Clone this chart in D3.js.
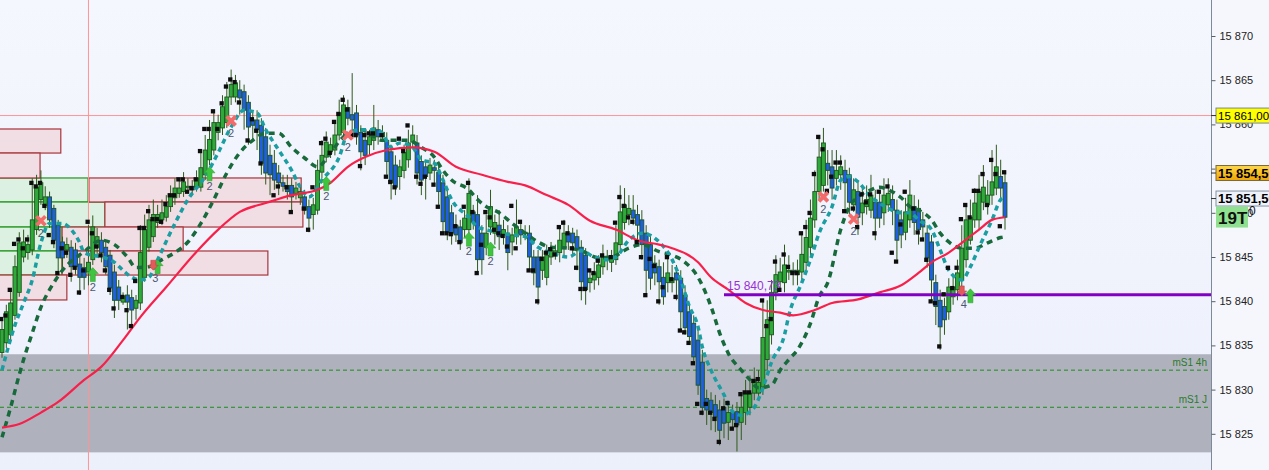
<!DOCTYPE html>
<html>
<head>
<meta charset="utf-8">
<script src="https://cdn.jsdelivr.net/npm/d3@7"></script>
<style>
  body { margin: 0; background: #f6f7fd; overflow: hidden; }
  svg { display: block; font-family: Arial, "Liberation Sans", sans-serif; }
</style>
</head>
<body>
<svg id="chart" width="1269" height="470"></svg>
<script>
// candles
const opens = [
  15834.2, 15835.3, 15836.2, 15838.4, 15841.0, 15845.0, 15845.5, 15845.8, 15848.1, 15851.5,
  15850.8, 15851.8, 15850.5, 15848.6, 15846.7, 15845.8, 15846.1, 15845.8, 15844.2, 15843.8,
  15843.3, 15844.7, 15846.1, 15846.9, 15846.1, 15845.2, 15843.3, 15841.6, 15839.9, 15840.7,
  15840.4, 15839.2, 15839.8, 15842.7, 15846.1, 15847.3, 15848.9, 15849.2, 15849.5, 15850.7,
  15851.7, 15852.2, 15852.4, 15852.9, 15853.0, 15852.9, 15852.9, 15854.3, 15856.0, 15857.1,
  15859.1, 15859.6, 15860.2, 15863.1, 15863.1, 15863.9, 15863.7, 15862.5, 15860.5, 15860.5,
  15859.9, 15858.6, 15856.5, 15855.6, 15854.5, 15853.4, 15853.1, 15853.1, 15852.2, 15851.7,
  15851.8, 15850.7, 15849.8, 15850.3, 15854.6, 15856.3, 15856.9, 15857.1, 15858.8, 15859.1,
  15861.9, 15861.1, 15861.3, 15859.1, 15858.2, 15857.7, 15858.2, 15859.4, 15858.6, 15858.2,
  15856.9, 15855.4, 15854.1, 15854.8, 15856.0, 15858.0, 15857.9, 15855.8, 15855.2, 15854.5,
  15855.1, 15854.6, 15853.4, 15851.8, 15850.0, 15848.6, 15848.4, 15848.1, 15848.1, 15850.1,
  15849.8, 15847.7, 15846.1, 15848.4, 15847.7, 15848.6, 15847.5, 15847.7, 15846.7, 15847.3,
  15848.1, 15847.7, 15847.7, 15845.0, 15845.0, 15843.5, 15842.7, 15845.0, 15845.6, 15845.5,
  15846.1, 15847.7, 15847.7, 15847.3, 15846.1, 15845.2, 15842.1, 15842.4, 15842.7, 15843.9,
  15844.7, 15844.4, 15844.7, 15846.4, 15848.9, 15849.8, 15850.3, 15849.8, 15849.2, 15847.7,
  15846.4, 15844.3, 15843.9, 15842.7, 15842.1, 15842.1, 15843.2, 15842.6, 15840.7, 15838.8,
  15837.5, 15835.6, 15833.1, 15829.0, 15828.8, 15828.3, 15827.7, 15828.0, 15826.3, 15827.4,
  15827.5, 15826.3, 15827.4, 15828.0, 15829.6, 15829.6, 15830.3, 15833.4, 15836.2, 15841.0,
  15842.2, 15842.1, 15843.3, 15843.5, 15843.0, 15843.3, 15844.4, 15846.1, 15849.2, 15852.4,
  15853.1, 15855.6, 15855.2, 15853.9, 15854.3, 15854.8, 15854.3, 15850.9, 15852.4, 15850.0,
  15850.7, 15850.3, 15851.2, 15851.2, 15850.0, 15850.9, 15851.5, 15850.3, 15849.2, 15847.8,
  15849.2, 15850.7, 15850.5, 15849.2, 15847.7, 15846.7, 15842.1, 15840.1, 15839.4, 15838.8,
  15840.5, 15841.3, 15842.4, 15844.7, 15846.9, 15849.2, 15849.2, 15851.2, 15850.9, 15852.0,
  15852.8, 15854.1, 15853.4
]
const closes = [
  15836.8, 15838.8, 15839.8, 15843.9, 15846.6, 15846.7, 15846.4, 15849.2, 15852.9, 15853.4,
  15851.8, 15849.2, 15846.9, 15844.9, 15844.9, 15846.4, 15843.9, 15843.9, 15842.7, 15842.7,
  15844.4, 15848.4, 15847.3, 15845.5, 15843.9, 15841.5, 15840.1, 15840.1, 15840.6, 15839.9,
  15839.0, 15840.1, 15845.5, 15848.1, 15849.2, 15849.8, 15849.8, 15850.0, 15850.7, 15852.0,
  15852.8, 15852.8, 15853.5, 15853.0, 15852.6, 15853.9, 15855.1, 15857.1, 15858.3, 15860.2,
  15860.2, 15862.0, 15863.1, 15864.5, 15864.7, 15863.0, 15861.6, 15859.7, 15859.9, 15859.4,
  15855.6, 15854.5, 15854.3, 15853.7, 15853.4, 15853.0, 15852.4, 15851.8, 15852.8, 15852.4,
  15850.3, 15849.4, 15850.9, 15854.8, 15856.5, 15858.0, 15857.7, 15858.8, 15861.3, 15862.2,
  15860.7, 15860.5, 15858.8, 15856.9, 15856.5, 15858.6, 15859.6, 15858.6, 15859.1, 15855.8,
  15853.4, 15852.9, 15855.2, 15856.8, 15857.9, 15858.8, 15854.5, 15853.7, 15854.1, 15855.4,
  15854.8, 15852.4, 15849.0, 15847.8, 15847.7, 15847.5, 15846.6, 15849.4, 15852.2, 15848.9,
  15844.7, 15844.7, 15847.7, 15850.7, 15848.9, 15847.3, 15848.1, 15845.5, 15847.5, 15848.4,
  15847.5, 15847.8, 15845.0, 15843.2, 15841.6, 15845.0, 15845.2, 15845.8, 15845.7, 15846.9,
  15847.7, 15846.7, 15846.6, 15845.8, 15842.2, 15841.3, 15842.6, 15843.2, 15844.1, 15845.0,
  15844.9, 15845.0, 15846.6, 15850.1, 15850.9, 15850.5, 15849.4, 15848.6, 15846.4, 15843.5,
  15842.6, 15843.2, 15842.2, 15840.5, 15843.2, 15842.6, 15842.4, 15838.8, 15837.0, 15836.0,
  15833.7, 15830.5, 15828.0, 15827.7, 15827.4, 15826.9, 15825.4, 15826.2, 15827.4, 15826.6,
  15826.0, 15828.0, 15829.6, 15829.6, 15831.1, 15830.8, 15835.9, 15837.9, 15841.0, 15843.0,
  15843.3, 15844.1, 15843.5, 15843.2, 15843.5, 15845.3, 15847.2, 15849.4, 15852.4, 15856.3,
  15857.9, 15854.8, 15852.8, 15854.8, 15855.2, 15853.4, 15851.2, 15852.6, 15849.5, 15851.1,
  15851.5, 15852.0, 15849.4, 15849.4, 15852.0, 15852.2, 15850.3, 15846.9, 15847.5, 15850.1,
  15852.0, 15848.9, 15848.1, 15848.4, 15844.9, 15842.4, 15839.4, 15837.1, 15837.9, 15841.6,
  15841.6, 15843.2, 15846.0, 15849.2, 15849.5, 15851.1, 15852.4, 15852.9, 15852.0, 15853.5,
  15855.2, 15852.8, 15849.5
]
const highs = [
  15837.9, 15839.6, 15841.3, 15845.2, 15847.8, 15848.1, 15847.5, 15853.9, 15854.3, 15854.8,
  15853.0, 15852.4, 15850.9, 15849.2, 15847.3, 15847.2, 15846.9, 15846.6, 15845.2, 15844.9,
  15848.6, 15849.7, 15848.3, 15847.8, 15846.9, 15845.8, 15844.1, 15842.4, 15841.0, 15841.8,
  15841.3, 15840.7, 15848.6, 15849.8, 15850.9, 15851.5, 15850.9, 15851.5, 15852.0, 15853.1,
  15853.9, 15853.7, 15854.6, 15853.9, 15853.7, 15854.8, 15857.1, 15858.8, 15860.5, 15861.6,
  15861.1, 15863.3, 15864.8, 15866.2, 15865.6, 15865.0, 15864.5, 15863.3, 15861.4, 15861.6,
  15860.7, 15859.6, 15857.7, 15857.1, 15855.4, 15854.3, 15854.3, 15853.9, 15853.5, 15853.1,
  15852.6, 15851.5, 15851.7, 15856.0, 15858.2, 15859.2, 15858.5, 15860.5, 15862.8, 15863.3,
  15862.8, 15865.8, 15862.2, 15859.9, 15859.4, 15859.4, 15862.2, 15860.5, 15859.9, 15859.1,
  15857.7, 15856.5, 15856.0, 15857.7, 15859.4, 15859.9, 15858.8, 15856.5, 15856.0, 15856.2,
  15856.0, 15855.4, 15854.3, 15852.6, 15850.9, 15849.8, 15849.2, 15850.3, 15853.9, 15850.9,
  15852.0, 15848.6, 15849.8, 15852.6, 15849.8, 15850.3, 15849.2, 15848.6, 15848.3, 15851.5,
  15849.0, 15848.6, 15848.6, 15845.8, 15845.8, 15845.8, 15846.4, 15846.7, 15846.4, 15848.6,
  15849.2, 15848.6, 15848.3, 15848.1, 15846.9, 15846.0, 15843.5, 15844.4, 15845.2, 15846.4,
  15845.8, 15845.8, 15848.6, 15853.1, 15852.8, 15852.0, 15852.0, 15850.9, 15850.3, 15848.6,
  15847.5, 15845.2, 15844.7, 15844.4, 15845.2, 15844.1, 15844.1, 15843.5, 15841.8, 15839.6,
  15838.4, 15836.8, 15834.5, 15830.0, 15829.7, 15829.4, 15828.8, 15829.0, 15828.3, 15828.3,
  15828.6, 15829.4, 15831.1, 15831.6, 15832.5, 15832.2, 15840.1, 15840.1, 15842.4, 15845.2,
  15844.9, 15846.4, 15845.2, 15844.4, 15844.7, 15847.5, 15849.2, 15851.5, 15854.8, 15858.6,
  15859.6, 15857.1, 15857.1, 15857.1, 15856.5, 15856.0, 15855.1, 15853.9, 15853.7, 15853.1,
  15853.1, 15854.3, 15852.6, 15852.6, 15853.9, 15853.9, 15853.1, 15851.5, 15850.3, 15851.7,
  15853.7, 15852.0, 15851.5, 15850.1, 15848.6, 15847.5, 15843.0, 15841.3, 15840.4, 15842.6,
  15843.0, 15844.7, 15848.6, 15850.9, 15851.5, 15852.8, 15854.3, 15855.4, 15853.7, 15857.1,
  15857.7, 15856.0, 15854.8
]
const lows = [
  15833.6, 15834.7, 15835.6, 15837.9, 15840.5, 15844.4, 15844.7, 15845.2, 15847.5, 15850.9,
  15850.3, 15848.3, 15846.0, 15843.0, 15843.8, 15844.9, 15842.2, 15843.0, 15840.7, 15841.3,
  15841.8, 15844.1, 15845.2, 15844.4, 15843.0, 15840.7, 15838.1, 15839.0, 15839.6, 15836.8,
  15837.4, 15837.9, 15839.0, 15842.2, 15845.6, 15846.7, 15848.3, 15848.6, 15849.0, 15850.1,
  15850.9, 15851.7, 15851.8, 15852.4, 15852.0, 15852.4, 15852.4, 15853.7, 15855.4, 15856.5,
  15858.2, 15858.8, 15859.6, 15862.2, 15862.5, 15861.1, 15859.4, 15857.7, 15858.2, 15857.1,
  15854.3, 15853.2, 15852.0, 15852.6, 15852.0, 15852.4, 15851.5, 15850.3, 15851.5, 15850.9,
  15849.8, 15847.8, 15848.1, 15849.8, 15853.9, 15855.7, 15856.2, 15856.5, 15858.2, 15858.5,
  15859.9, 15858.8, 15857.7, 15854.8, 15855.4, 15856.5, 15857.1, 15857.7, 15858.0, 15854.3,
  15851.5, 15852.0, 15852.6, 15853.9, 15855.1, 15857.3, 15853.2, 15852.0, 15851.5, 15853.7,
  15853.1, 15850.9, 15847.5, 15846.9, 15846.4, 15846.7, 15845.8, 15847.2, 15847.5, 15848.1,
  15843.3, 15843.0, 15845.2, 15847.5, 15846.4, 15845.8, 15846.4, 15843.5, 15845.2, 15846.4,
  15846.4, 15846.9, 15843.3, 15841.8, 15839.6, 15842.4, 15841.8, 15844.1, 15844.7, 15844.4,
  15845.2, 15845.8, 15845.2, 15843.5, 15840.1, 15839.6, 15841.0, 15841.3, 15841.8, 15843.0,
  15843.5, 15843.3, 15844.1, 15845.8, 15848.1, 15848.6, 15848.6, 15846.4, 15844.7, 15840.7,
  15841.3, 15841.8, 15839.6, 15839.6, 15841.0, 15841.0, 15840.1, 15836.8, 15836.2, 15835.1,
  15832.8, 15829.4, 15827.1, 15826.0, 15825.4, 15825.2, 15823.7, 15824.5, 15824.3, 15825.4,
  15823.0, 15824.3, 15826.0, 15827.1, 15828.8, 15828.8, 15829.4, 15832.2, 15835.1, 15840.1,
  15841.3, 15841.0, 15842.4, 15841.8, 15841.8, 15842.4, 15843.5, 15845.2, 15848.3, 15851.5,
  15852.4, 15853.1, 15851.5, 15853.1, 15852.6, 15850.3, 15849.8, 15850.1, 15847.5, 15848.6,
  15849.8, 15849.4, 15846.9, 15848.3, 15848.6, 15850.1, 15848.6, 15844.7, 15846.0, 15846.9,
  15848.3, 15847.5, 15846.4, 15846.9, 15843.8, 15840.1, 15837.3, 15834.5, 15836.2, 15837.9,
  15839.6, 15840.1, 15841.3, 15843.8, 15846.4, 15848.3, 15848.1, 15850.3, 15849.8, 15850.9,
  15852.0, 15851.5, 15848.1
]
// black square markers, one per candle (null = none)
const marks = [
  15838.0, 15838.4, 15841.3, 15846.5, 15847.0, 15846.0, 15847.0, 15853.4, 15853.0, 15853.4,
  15850.8, 15847.5, 15846.7, 15843.2, 15846.0, 15845.5, 15843.0, 15843.8, 15841.0, 15843.5,
  15849.0, 15847.7, 15846.2, 15845.2, 15843.5, 15841.3, 15839.2, null, 15840.5, 15839.0,
  15837.2, 15842.3, 15848.3, 15848.3, 15850.2, 15849.3, 15849.3, 15849.0, 15851.0, 15852.0,
  15852.0, 15853.8, 15853.8, 15852.4, 15852.8, 15853.8, 15857.0, 15859.5, 15859.5, 15861.5,
  15859.5, 15862.4, 15864.3, 15865.1, 15864.8, 15862.5, null, 15858.2, 15860.6, 15859.3,
  15855.6, null, null, 15852.0, 15853.0, null, 15852.9, 15850.1, null, null,
  15850.5, 15848.1, 15852.9, null, 15857.9, 15858.4, 15856.8, 15860.3, 15861.2, 15862.8,
  15861.7, 15858.8, 15858.8, 15855.3, 15858.8, 15859.0, 15859.0, null, 15858.8, 15854.1,
  15853.5, 15852.9, 15858.4, 15857.0, 15859.9, null, 15854.1, 15853.3, 15854.1, null,
  15853.2, 15850.7, 15847.7, 15847.7, 15847.6, 15848.5, 15846.7, 15850.7, 15853.4, 15850.1,
  15843.2, 15846.4, 15850.1, 15849.5, 15848.1, 15847.7, 15847.4, 15846.2, 15850.8, 15846.0,
  15849.0, null, 15843.5, 15843.5, 15840.0, 15844.8, 15845.5, 15845.9, 15845.3, 15848.4,
  15848.9, 15847.7, 15846.0, 15843.8, 15841.4, 15841.4, 15843.5, 15843.2, 15844.6, 15845.2,
  null, 15845.0, 15848.9, 15851.8, 15850.8, 15849.5, 15849.0, 15846.7, 15845.0, 15840.7,
  15844.8, 15844.0, 15840.0, 15841.6, 15845.0, 15842.5, 15840.5, 15836.7, 15836.5, 15835.3,
  15833.0, 15828.4, 15827.4, 15828.4, 15827.4, 15826.7, 15824.1, 15827.9, 15828.5, 15825.6,
  15826.0, 15829.5, 15829.7, 15829.7, 15831.0, 15831.2, 15840.1, 15837.2, 15838.0, 15844.5,
  15841.3, 15845.3, 15843.9, 15843.2, 15843.2, 15847.7, 15848.4, 15850.0, 15854.4, 15858.6,
  15857.2, 15852.5, 15854.1, 15855.7, 15855.7, 15850.2, null, 15850.5, 15848.4, 15852.1,
  15851.2, 15852.1, 15847.7, 15852.4, null, 15853.0, 15845.5, 15844.5, 15848.7, 15852.4,
  null, 15850.5, 15847.8, 15847.0, 15844.7, 15840.0, 15839.8, 15834.9, 15840.8, 15843.8,
  15841.5, 15843.8, 15849.3, 15850.9, 15849.5, 15852.5, 15852.5, 15854.4, 15850.9, 15856.0,
  15854.4, 15848.5, 15854.6
]

// moving averages: candle index and value
const redIdx = [0, 4, 9, 13, 19, 23, 28, 32, 38, 45, 50, 55, 61, 67, 73, 76, 80, 84, 89, 95,
  100, 105, 111, 117, 121, 126, 131, 136, 142, 147, 152, 155, 161, 164, 168, 172, 176, 180, 183, 188,
  192, 198, 203, 208, 212, 215, 219, 222, 226, 229, 232]
const redMA = [15825.7, 15826.1, 15827.4, 15828.6, 15831.1, 15832.6, 15835.6, 15838.2, 15841.6, 15845.6,
  15848.1, 15850.1, 15851.1, 15852.0, 15852.6, 15853.4, 15855.2, 15856.3, 15857.1, 15857.4,
  15856.9, 15855.2, 15854.3, 15853.5, 15853.1, 15852.0, 15850.9, 15849.1, 15848.1, 15846.9,
  15846.4, 15846.0, 15844.4, 15842.7, 15841.3, 15839.8, 15839.0, 15838.7, 15838.4, 15839.0,
  15839.8, 15840.2, 15841.0, 15841.8, 15843.2, 15844.4, 15845.5, 15846.6, 15848.1, 15849.2, 15849.5]

const tealIdx = [0, 3, 5, 7, 9, 11, 14, 16, 18, 19, 21, 23, 26, 28, 30, 32, 34, 36, 40, 43,
  47, 50, 53, 56, 59, 61, 64, 67, 69, 71, 74, 78, 80, 83, 86, 88, 90, 92, 95, 97,
  100, 102, 104, 108, 110, 112, 115, 118, 121, 124, 127, 131, 134, 137, 140, 142, 145, 148, 152, 155,
  157, 159, 161, 162, 164, 167, 169, 171, 174, 176, 178, 181, 182, 185, 187, 189, 192, 194, 196, 198,
  201, 203, 205, 208, 210, 212, 215, 217, 219, 222, 224, 226, 229, 231, 232]
const tealMA = [15832.2, 15837.3, 15839.8, 15842.4, 15846.6, 15848.8, 15848.8, 15848.1, 15846.6, 15845.5,
  15845.2, 15845.0, 15844.4, 15843.5, 15842.7, 15842.4, 15842.7, 15844.7, 15848.8, 15851.5,
  15854.1, 15856.8, 15859.7, 15861.6, 15861.3, 15859.4, 15857.1, 15854.8, 15852.9, 15851.8,
  15853.7, 15856.3, 15859.0, 15859.4, 15859.4, 15859.0, 15857.4, 15857.9, 15857.4, 15856.0,
  15855.6, 15853.7, 15851.5, 15849.5, 15848.4, 15848.1, 15847.7, 15847.5, 15847.3, 15846.1,
  15845.5, 15845.0, 15845.7, 15845.0, 15844.7, 15845.0, 15846.9, 15847.7, 15846.7, 15844.7,
  15842.4, 15839.4, 15837.1, 15834.8, 15832.2, 15829.4, 15827.5, 15827.1, 15828.0, 15830.2,
  15833.1, 15836.2, 15838.4, 15842.1, 15844.7, 15847.7, 15850.7, 15853.7, 15854.1, 15853.5,
  15851.8, 15851.1, 15850.5, 15850.0, 15850.0, 15849.2, 15848.1, 15845.8, 15843.5, 15842.4,
  15843.9, 15846.1, 15849.2, 15851.5, 15851.8]

const greenIdx = [0, 2, 4, 5, 7, 9, 12, 14, 19, 23, 26, 29, 31, 34, 37, 40, 43, 46, 49, 52,
  55, 58, 61, 64, 67, 70, 73, 76, 79, 83, 88, 94, 97, 100, 102, 104, 108, 110, 112, 115,
  118, 121, 124, 127, 131, 134, 138, 141, 145, 148, 152, 155, 158, 161, 164, 166, 168, 171, 173, 175,
  178, 180, 182, 184, 187, 189, 191, 194, 196, 198, 201, 203, 205, 208, 210, 212, 215, 217, 219, 222,
  225, 228, 231, 232]
const greenMA = [15824.6, 15828.0, 15831.7, 15833.4, 15836.4, 15839.3, 15842.1, 15843.5, 15845.6, 15846.9,
  15846.4, 15845.0, 15843.8, 15843.9, 15844.7, 15845.5, 15846.7, 15848.8, 15851.5, 15854.5,
  15856.8, 15858.2, 15859.0, 15859.0, 15857.4, 15856.2, 15855.2, 15856.8, 15858.6, 15859.4,
  15858.2, 15858.2, 15857.4, 15856.3, 15854.8, 15853.7, 15852.6, 15851.5, 15850.7, 15850.0,
  15848.8, 15847.7, 15846.7, 15846.1, 15846.0, 15845.7, 15844.9, 15845.0, 15846.0, 15846.4,
  15845.6, 15845.2, 15844.4, 15842.7, 15839.4, 15836.4, 15834.1, 15832.2, 15831.1, 15830.2,
  15830.5, 15832.2, 15833.4, 15834.5, 15837.5, 15840.5, 15842.1, 15848.1, 15850.7, 15851.8,
  15852.6, 15852.9, 15852.6, 15851.7, 15850.7, 15850.3, 15849.2, 15847.7, 15846.7, 15846.0,
  15846.0, 15846.6, 15847.2, 15847.3]

// supply / demand zones: start index, end index, top, bottom, kind
const zoneStart = [-2, -2, -2, -2, -2, -2, 20.1, 23.8, 13.9, 13.9, -2]
const zoneEnd = [19.9, 23.8, 13.9, 13.9, 13.6, 8.8, 69.2, 69.6, 41.9, 61.5, 15.0]
const zoneTop = [15853.94, 15851.22, 15848.39, 15845.68, 15859.48, 15856.76, 15853.94, 15851.22, 15848.39, 15845.68, 15842.96]
const zoneBottom = [15851.22, 15848.39, 15845.68, 15842.96, 15856.76, 15853.94, 15851.22, 15848.39, 15845.68, 15842.96, 15840.14]
const zoneKind = ['buy', 'buy', 'buy', 'buy', 'sell', 'sell', 'sell', 'sell', 'sell', 'sell', 'sell']

// signals
const crossIdx = [9, 53, 80, 190, 197]
const crossPrice = [15849.1, 15860.4, 15858.8, 15851.8, 15849.3]
const crossLabel = ['2', '2', '2', '2', '2']
const upIdx = [21, 36, 48, 75, 108, 113, 224]
const upPrice = [15843.8, 15844.7, 15855.2, 15854.1, 15847.8, 15846.7, 15841.4]
const upLabel = ['2', '', '2', '2', '2', '2', '']
const downIdx = [35, 222]
const downPrice = [15843.5, 15840.6]
const downLabel = ['3', '4']

// levels
const s1Band = [15834.0, 15822.9]
const s1Levels = [15832.2, 15828.0]
const s1Names = ['mS1 4h', 'mS1 J']
const refLevel = 15861
const refIdx = 20
const pivotLevel = 15840.73
const pivotStart = 167
const lastTags = [15854.5, 15851.5]
const timerText = '19T'
const yTicks = [15825, 15830, 15835, 15840, 15845, 15850, 15855, 15860, 15865, 15870]

const W = 1269
const H = 470
const plotW = 1211

const loc = d3.formatLocale({ decimal: ',', thousands: ' ', grouping: [3], currency: ['', ''] })
const fmtTick = loc.format(',')
const fmtPrice = loc.format(',.2f')

const n = closes.length
const x = d3.scaleLinear().domain([0, n - 1]).range([2, 1005])
const y = d3.scaleLinear().domain([15825, 15870]).range([433.8, 36])

const svg = d3.select('#chart')
const defs = svg.append('defs')

const bg = defs.append('linearGradient').attr('id', 'bg').attr('x1', 0).attr('y1', 0).attr('x2', 0).attr('y2', 1)
bg.append('stop').attr('offset', 0).attr('stop-color', '#f5f7fe')
bg.append('stop').attr('offset', 1).attr('stop-color', '#ecf0fb')

const og = defs.append('linearGradient').attr('id', 'orange').attr('x1', 0).attr('y1', 0).attr('x2', 0).attr('y2', 1)
og.append('stop').attr('offset', 0).attr('stop-color', '#ffd84a')
og.append('stop').attr('offset', 1).attr('stop-color', '#f0a400')

defs.append('clipPath').attr('id', 'plotClip')
  .append('rect').attr('width', plotW).attr('height', H)

svg.append('rect').attr('width', W).attr('height', H).attr('fill', '#f6f7fd')
svg.append('rect').attr('width', plotW).attr('height', H).attr('fill', 'url(#bg)')

const plot = svg.append('g').attr('clip-path', 'url(#plotClip)')

// gray support band
plot.append('rect')
  .attr('x', 0).attr('width', plotW)
  .attr('y', y(s1Band[0])).attr('height', y(s1Band[1]) - y(s1Band[0]))
  .attr('fill', '#afb2bd')

plot.selectAll('line.s1')
  .data(s1Levels)
  .enter()
  .append('line')
  .attr('x1', 0).attr('x2', plotW)
  .attr('y1', d => y(d)).attr('y2', d => y(d))
  .attr('stroke', '#1c8c1c')
  .attr('stroke-width', 1)
  .attr('stroke-dasharray', '4 3')

plot.selectAll('text.s1')
  .data(s1Levels)
  .enter()
  .append('text')
  .attr('x', plotW - 4)
  .attr('y', d => y(d) - 4)
  .attr('text-anchor', 'end')
  .attr('font-size', 10)
  .attr('fill', '#2c7a2c')
  .text((d, i) => s1Names[i])

// zones
plot.selectAll('rect.zone')
  .data(zoneStart)
  .enter()
  .append('rect')
  .attr('x', (d, i) => x(d))
  .attr('width', (d, i) => x(zoneEnd[i]) - x(d))
  .attr('y', (d, i) => y(zoneTop[i]))
  .attr('height', (d, i) => y(zoneBottom[i]) - y(zoneTop[i]))
  .attr('fill', (d, i) => zoneKind[i] === 'buy' ? '#dcf1e2' : '#f1dee5')
  .attr('stroke', (d, i) => zoneKind[i] === 'buy' ? '#23961f' : '#a8343a')
  .attr('stroke-width', 1.2)

// reference lines
plot.append('line')
  .attr('x1', 0).attr('x2', plotW)
  .attr('y1', y(refLevel)).attr('y2', y(refLevel))
  .attr('stroke', '#ff9393').attr('stroke-width', 1)
plot.append('line')
  .attr('x1', x(refIdx)).attr('x2', x(refIdx))
  .attr('y1', 0).attr('y2', H)
  .attr('stroke', '#ff9393').attr('stroke-width', 1)

// candles
const idx = d3.range(n)
const bodyW = 3.9
plot.selectAll('line.wick')
  .data(idx)
  .enter()
  .append('line')
  .attr('x1', i => x(i)).attr('x2', i => x(i))
  .attr('y1', i => y(highs[i])).attr('y2', i => y(lows[i]))
  .attr('stroke', '#2f5a1c')
  .attr('stroke-width', 1)

plot.selectAll('rect.body')
  .data(idx)
  .enter()
  .append('rect')
  .attr('x', i => x(i) - bodyW / 2)
  .attr('width', bodyW)
  .attr('y', i => y(Math.max(opens[i], closes[i])))
  .attr('height', i => Math.max(1.5, Math.abs(y(opens[i]) - y(closes[i]))))
  .attr('fill', i => closes[i] >= opens[i] ? '#2eaa3a' : '#1f5fe3')
  .attr('stroke', '#1d551d')
  .attr('stroke-width', 0.9)

// moving averages
const lineOf = (ids, vals) => d3.line()
  .x((d, k) => x(ids[k]))
  .y(d => y(d))
  .curve(d3.curveMonotoneX)(vals)

plot.append('path')
  .attr('d', lineOf(greenIdx, greenMA))
  .attr('fill', 'none')
  .attr('stroke', '#186a3c')
  .attr('stroke-width', 3.5)
  .attr('stroke-dasharray', '6 5')

plot.append('path')
  .attr('d', lineOf(tealIdx, tealMA))
  .attr('fill', 'none')
  .attr('stroke', '#1b9ea2')
  .attr('stroke-width', 3.5)
  .attr('stroke-dasharray', '5 4')

plot.append('path')
  .attr('d', lineOf(redIdx, redMA))
  .attr('fill', 'none')
  .attr('stroke', '#f8204a')
  .attr('stroke-width', 2.2)

// pivot level
plot.append('line')
  .attr('x1', x(pivotStart)).attr('x2', plotW)
  .attr('y1', y(pivotLevel)).attr('y2', y(pivotLevel))
  .attr('stroke', '#8200c4').attr('stroke-width', 3)
plot.append('text')
  .attr('x', x(pivotStart) + 3)
  .attr('y', y(pivotLevel) - 5)
  .attr('font-size', 12)
  .attr('fill', '#9a2fd6')
  .text(fmtPrice(pivotLevel))

// black markers
plot.selectAll('rect.mark')
  .data(idx.filter(i => marks[i] !== null))
  .enter()
  .append('rect')
  .attr('x', i => x(i) - 3)
  .attr('y', i => y(marks[i]) - 2)
  .attr('width', 4.3)
  .attr('height', 4.3)
  .attr('fill', '#0d0d0d')

// signals
const sig = plot.append('g')
crossIdx.forEach((ci, k) => {
  const g = sig.append('g').attr('transform', 'translate(' + x(ci) + ',' + y(crossPrice[k]) + ')')
  g.append('path').attr('d', 'M-4.5,-4.5L4.5,4.5M4.5,-4.5L-4.5,4.5')
    .attr('stroke', '#f26a6a').attr('stroke-width', 3.8)
  g.append('text').attr('y', 16).attr('text-anchor', 'middle')
    .attr('font-size', 11).attr('fill', '#4d5670').text(crossLabel[k])
})
upIdx.forEach((ui, k) => {
  const g = sig.append('g').attr('transform', 'translate(' + x(ui) + ',' + y(upPrice[k]) + ')')
  g.append('path').attr('d', 'M0,0L5.5,6L2.5,6L2.5,14L-2.5,14L-2.5,6L-5.5,6Z')
    .attr('fill', '#3ec43e').attr('stroke', '#2b9a2b').attr('stroke-width', 0.5)
  g.append('text').attr('y', 23).attr('text-anchor', 'middle')
    .attr('font-size', 11).attr('fill', '#4d5670').text(upLabel[k])
})
downIdx.forEach((di, k) => {
  const g = sig.append('g').attr('transform', 'translate(' + x(di) + ',' + y(downPrice[k]) + ')')
  g.append('path').attr('d', 'M0,0L5,-5L2.5,-5L2.5,-10L-2.5,-10L-2.5,-5L-5,-5Z')
    .attr('fill', '#e25a5a').attr('stroke', '#b53c3c').attr('stroke-width', 0.5)
  g.append('text').attr('x', 2).attr('y', 12).attr('text-anchor', 'middle')
    .attr('font-size', 11).attr('fill', '#4d5670').text(downLabel[k])
})

// right axis
svg.append('line')
  .attr('x1', plotW + 0.5).attr('x2', plotW + 0.5)
  .attr('y1', 0).attr('y2', H)
  .attr('stroke', '#7d8a97').attr('stroke-width', 1)

const yAxis = d3.axisRight(y)
  .tickValues(yTicks)
  .tickSize(4)
  .tickPadding(4)
  .tickFormat(fmtTick)

const ax = svg.append('g')
  .attr('transform', 'translate(' + (plotW + 0.5) + ',0)')
  .call(yAxis)
ax.select('.domain').remove()
ax.selectAll('line').attr('stroke', '#55606b')
ax.selectAll('text')
  .attr('font-size', 11)
  .attr('font-family', 'Arial, "Liberation Sans", sans-serif')
  .attr('fill', '#222')

// price tags
const tag = (price, fill, stroke, bold, size, dy) => {
  const g = svg.append('g').attr('transform', 'translate(' + (plotW + 5) + ',' + (y(price) + dy) + ')')
  svg.append('line')
    .attr('x1', plotW).attr('x2', plotW + 5)
    .attr('y1', y(price) + dy).attr('y2', y(price) + dy)
    .attr('stroke', '#333')
  g.append('rect').attr('x', 0).attr('y', -7.5).attr('width', 60).attr('height', 15)
    .attr('fill', fill).attr('stroke', stroke)
  g.append('text').attr('x', 2).attr('y', 4.5)
    .attr('font-size', size).attr('font-weight', bold ? 'bold' : 'normal')
    .attr('fill', '#000').text(fmtPrice(price))
}
svg.append('line')
  .attr('x1', plotW).attr('x2', plotW + 5)
  .attr('y1', y(refLevel)).attr('y2', y(refLevel))
  .attr('stroke', '#ff9393')
tag(refLevel, '#ffff00', '#7a8894', false, 11.5, 0)
tag(lastTags[0], 'url(#orange)', '#7a6a3a', true, 13, 0)
tag(lastTags[1], '#eef3fb', '#8292a3', true, 13, -1)

const tg = svg.append('g').attr('transform', 'translate(' + (plotW + 5) + ',' + (y(lastTags[1]) + 7) + ')')
tg.append('rect').attr('x', 0).attr('y', 0).attr('width', 32).attr('height', 21).attr('fill', '#8fe08f')
tg.append('text').attr('x', 2).attr('y', 17.5)
  .attr('font-size', 17).attr('font-weight', 'bold').attr('fill', '#111').text(timerText)
tg.append('text').attr('x', 33).attr('y', 8)
  .attr('font-size', 12).attr('fill', '#111').text('0')
</script>
</body>
</html>
